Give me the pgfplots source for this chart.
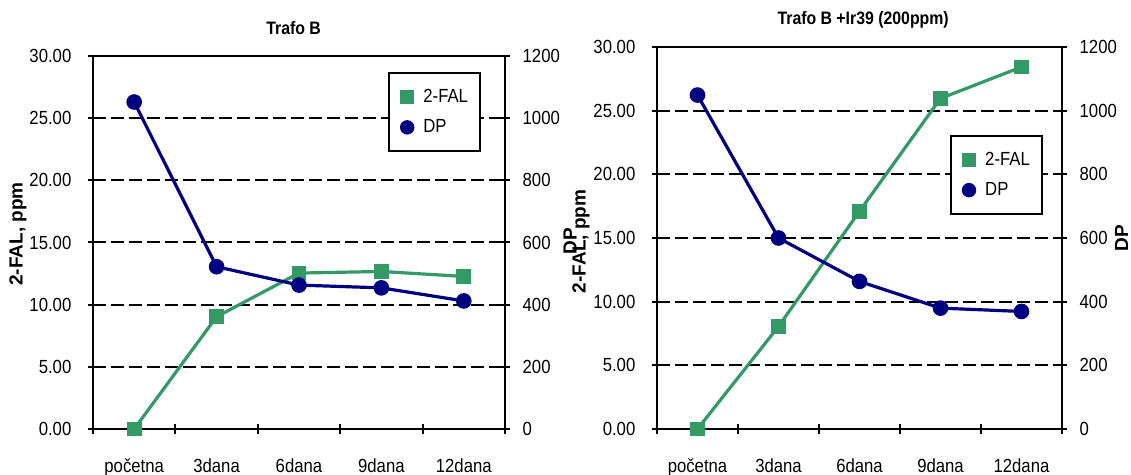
\documentclass[border=0pt]{standalone}
\usepackage{fontspec}
\setmainfont{Liberation Sans}
\newfontfamily\cf[FakeStretch=0.88]{Liberation Sans}
\usepackage{pgfplots}
\pgfplotsset{compat=1.18}
\definecolor{falgreen}{HTML}{339966}
\definecolor{dpnavy}{HTML}{000080}

\pgfplotsset{
 common/.style={
   scale only axis,
   anchor=south west,
   xmin=0, xmax=5,
   tick align=center,
   major tick length=5pt,
   tick style={black, line width=1pt},
   axis line style={line width=1pt},
   /pgf/number format/assume math mode=true,
   /pgf/number format/1000 sep={},
   ticklabel style={font=\fontsize{9.5}{11}\cf},
   label style={font=\fontsize{9.5}{11}\selectfont\bfseries},
   title style={font=\fontsize{9}{11}\cf\bfseries, anchor=center, yshift=-6pt},
 },
 prim/.style={common,
   ymin=0, ymax=30, ytick={0,5,...,30},
   yticklabel style={/pgf/number format/fixed, /pgf/number format/fixed zerofill, /pgf/number format/precision=2, xshift=-4.8pt},
   xtick={0,...,5}, xticklabels={početna,3dana,6dana,9dana,12dana}, x tick label as interval,
   xticklabel style={yshift=-9pt},
   xtick pos=bottom, ytick pos=left,
   ymajorgrids, grid style={black, line width=1pt, dash pattern=on 6.3pt off 2.7pt},
 },
 sec/.style={common,
   ymin=0, ymax=1200, ytick={0,200,...,1200},
   axis y line*=right, axis x line=none,
   yticklabel style={xshift=2.8pt},
   legend image code/.code={\path[draw=none, fill=none] (-3pt,-3pt) rectangle (3pt,3pt); \draw[##1] plot coordinates {(0pt,0pt)};},
   legend style={draw=black, line width=1pt, fill=white, font=\fontsize{9.5}{11}\cf,
     inner xsep=6pt, inner ysep=8pt, row sep=7pt, column sep=5pt,
     nodes={inner sep=0pt}},
   legend cell align=left,
 },
 falplot/.style={falgreen, line width=1.6pt, mark=square*, mark size=2.9pt},
 dpplot/.style={dpnavy, line width=1.6pt, mark=*, mark size=3.1pt},
}

\begin{document}
\begin{tikzpicture}
\useasboundingbox (0,0) rectangle (565.5pt,237.5pt);

% ---------- Left panel: Trafo B ----------
\begin{axis}[prim, at={(46.5pt,23pt)}, width=206pt, height=186.5pt,
  title={Trafo B}, title style={at={(axis description cs:0.487,1.074)}},
  ylabel={2-FAL, ppm}, ylabel style={at={(axis description cs:-0.182,0.523)}, anchor=center}]
\addplot[falplot] coordinates {(0.5,0) (1.5,9.03) (2.5,12.54) (3.5,12.67) (4.5,12.27)};
\end{axis}
\begin{axis}[sec, at={(46.5pt,23pt)}, width=206pt, height=186.5pt,
  ylabel={DP}, ylabel style={at={(axis description cs:1.158,0.504)}, anchor=center},
  legend style={at={(axis description cs:0.716,0.957)}, anchor=north west}]
\addplot[dpplot, forget plot] coordinates {(0.5,1052) (1.5,522) (2.5,463) (3.5,454) (4.5,412)};
\addlegendimage{only marks, mark=square*, falgreen, mark size=2.9pt}
\addlegendentry{2-FAL}
\addlegendimage{only marks, mark=*, dpnavy, mark size=3.1pt}
\addlegendentry{DP}
\end{axis}

% ---------- Right panel: Trafo B +Ir39 ----------
\begin{axis}[prim, at={(328.5pt,23pt)}, width=202.5pt, height=191pt,
  title={Trafo B +Ir39 (200ppm)}, title style={at={(axis description cs:0.509,1.071)}},
  ylabel={2-FAL, ppm}, ylabel style={at={(axis description cs:-0.188,0.491)}, anchor=center}]
\addplot[falplot] coordinates {(0.5,0) (1.5,8.05) (2.5,17.1) (3.5,25.96) (4.5,28.43)};
\end{axis}
\begin{axis}[sec, at={(328.5pt,23pt)}, width=202.5pt, height=191pt,
  ylabel={DP}, ylabel style={at={(axis description cs:1.147,0.5)}, anchor=center},
  legend style={at={(axis description cs:0.723,0.770)}, anchor=north west}]
\addplot[dpplot, forget plot] coordinates {(0.5,1049) (1.5,600) (2.5,463.6) (3.5,379.7) (4.5,369.2)};
\addlegendimage{only marks, mark=square*, falgreen, mark size=2.9pt}
\addlegendentry{2-FAL}
\addlegendimage{only marks, mark=*, dpnavy, mark size=3.1pt}
\addlegendentry{DP}
\end{axis}
\end{tikzpicture}
\end{document}
